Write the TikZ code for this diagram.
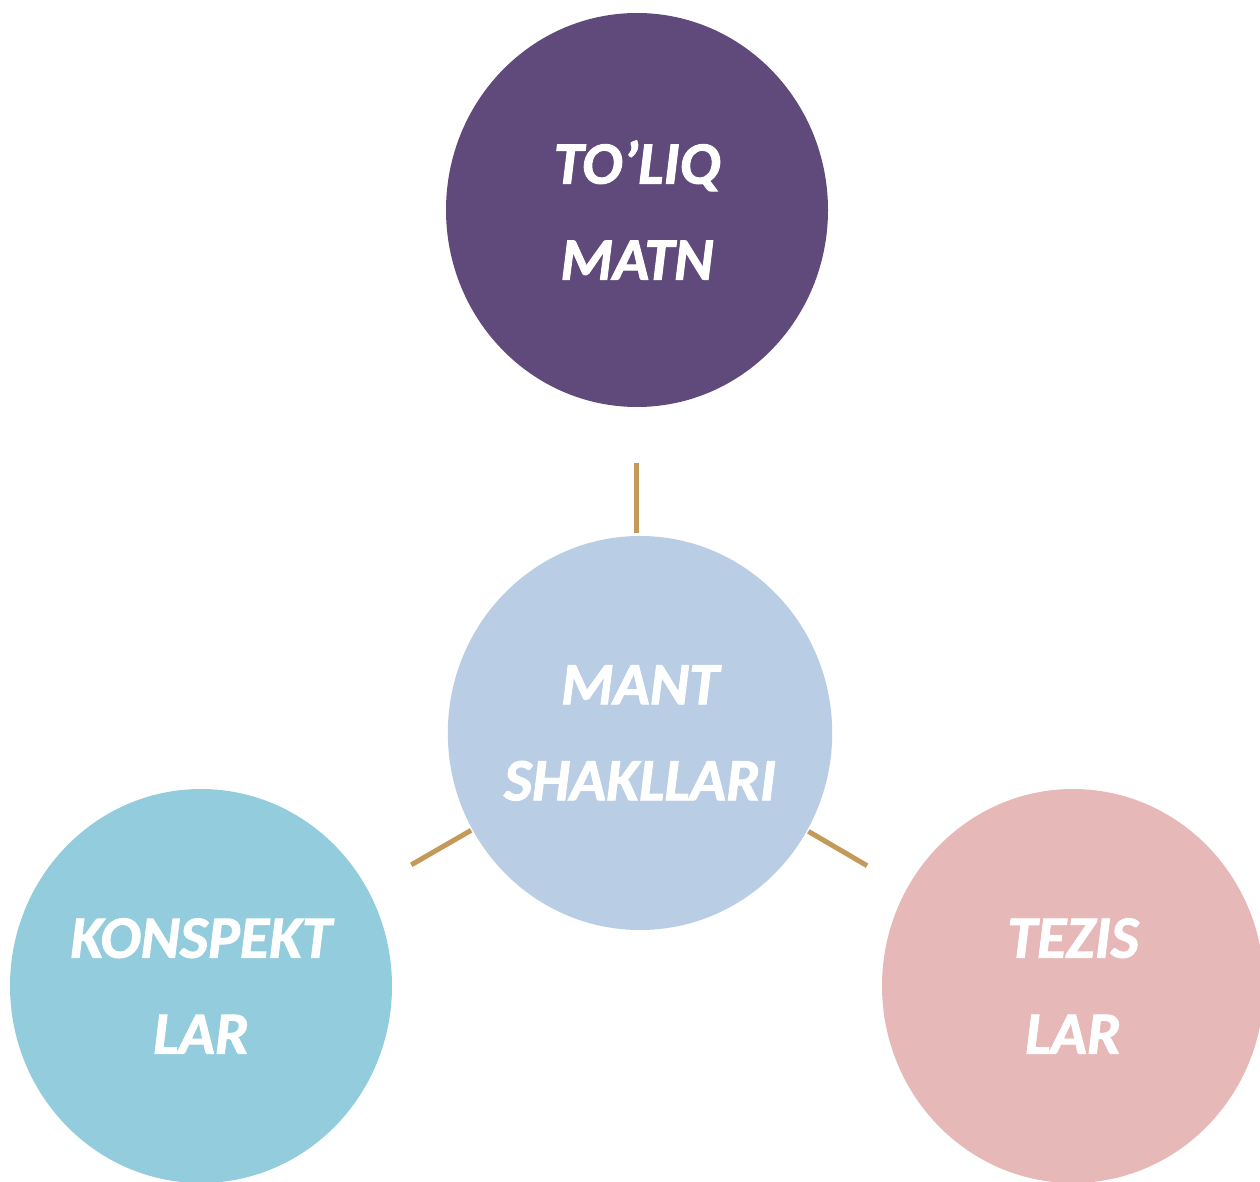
\documentclass[tikz,border=0pt]{standalone}
\usepackage{fontspec}
\setmainfont{Carlito}
\newfontfamily\bubblefont{Carlito}[FakeBold=1.6]
\usetikzlibrary{shapes.geometric,calc}
\definecolor{cpurple}{HTML}{604A7B}
\definecolor{cblue}{HTML}{B9CDE5}
\definecolor{ccyan}{HTML}{93CDDD}
\definecolor{cpink}{HTML}{E6B9B8}
\definecolor{ctan}{HTML}{C39A5A}
\newcommand\bubbletext[1]{{\bubblefont\fontsize{60}{96}\selectfont\bfseries\itshape #1}}
\tikzset{
  bubble/.style={ellipse, minimum width=382pt, minimum height=394pt, inner sep=0pt,
    text=white, align=center, font=\fontsize{60}{96}\selectfont},
  link/.style={draw=ctan, line width=5pt}
}
\begin{document}
\begin{tikzpicture}[x=1pt,y=-1pt]
\useasboundingbox (0,0) rectangle (1260,1182);
\clip (0,0) rectangle (1260,1182);
\node[bubble, fill=cpurple] (top) at (637,210) {\bubbletext{TO’LIQ}\\\bubbletext{MATN}};
\node[bubble, fill=cblue] (mid) at (640,733) {\bubbletext{MANT}\\\bubbletext{SHAKLLARI}};
\node[bubble, fill=ccyan] (left) at (201,986) {\bubbletext{KONSPEKT}\\\bubbletext{LAR}};
\node[bubble, fill=cpink] (right) at (1073,986) {\bubbletext{TEZIS}\\\bubbletext{LAR}};
\draw[link] ($(top)+(-1,253)$) -- ($(top)+(-1,323)$);
\draw[link] ($(mid)!195pt!(left)$) -- ($(mid)!264pt!(left)$);
\draw[link] ($(mid)!195pt!(right)$) -- ($(mid)!263pt!(right)$);
\end{tikzpicture}
\end{document}
